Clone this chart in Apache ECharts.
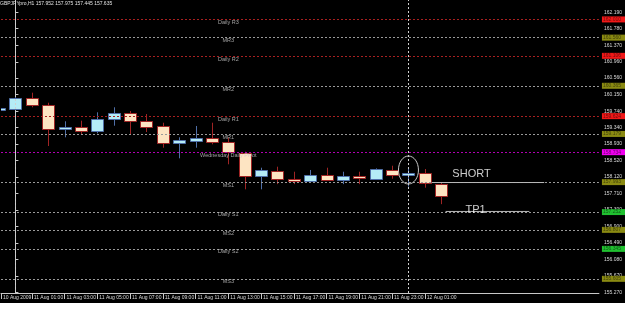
<!DOCTYPE html>
<html><head><meta charset="utf-8">
<script src="https://cdn.jsdelivr.net/npm/echarts@6/dist/echarts.min.js"></script>
<style>html,body{margin:0;padding:0;background:#fff;} #chart{width:625px;height:303px;background:#000;}</style>
</head><body><div id="chart"></div>
<script>
// ---- data ----
// bar index: 0 = 11 Aug 00:00, -1 = 10 Aug 23:00 (hourly)
const barIndex = [-1,0,1,2,3,4,5,6,7,8,9,10,11,12,13,14,15,16,17,18,19,20,21,22,23,24,25,26];
const opens  = [159.78,159.804,160.061,159.903,159.295,159.344,159.253,159.550,159.705,159.500,159.377,158.964,159.013,159.073,158.974,158.717,158.149,158.272,158.067,158.018,158.174,158.035,158.141,158.074,158.290,158.166,158.208,157.952];
const highs  = [159.86,160.120,160.200,159.952,159.493,159.508,159.715,159.839,159.747,159.673,159.458,159.097,159.377,159.458,159.088,158.742,158.346,158.371,158.247,158.290,158.346,158.247,158.247,158.330,158.395,158.330,158.314,157.975];
const lows   = [159.74,159.770,159.839,158.882,159.097,159.179,159.196,159.384,159.154,159.228,158.840,158.578,158.840,158.924,158.430,157.812,157.812,157.940,157.940,157.990,158.018,157.940,157.940,158.050,158.074,157.880,157.852,157.445];
const closes = [159.82,160.061,159.896,159.295,159.344,159.253,159.542,159.705,159.500,159.359,158.949,159.023,159.080,158.974,158.727,158.141,158.282,158.067,158.025,158.166,158.035,158.141,158.084,158.307,158.158,158.208,157.961,157.635];

const yTicks = [155.27,155.67,156.08,156.49,156.90,157.30,157.71,158.12,158.52,158.93,159.34,159.74,160.15,160.56,160.96,161.37,161.78,162.19];
const xTickIndex  = [-0.88,1,3,5,7,9,11,13,15,17,19,21,23,25];
const xTickLabels = ['10 Aug 2009','11 Aug 01:00','11 Aug 03:00','11 Aug 05:00','11 Aug 07:00','11 Aug 09:00','11 Aug 11:00','11 Aug 13:00','11 Aug 15:00','11 Aug 17:00','11 Aug 19:00','11 Aug 21:00','11 Aug 23:00','12 Aug 01:00'];

const levelNames  = ['Daily R3','MR3','Daily R2','MR2','Daily R1','MR1','Wednesday Daily Pivot','MS1','Daily S1','MS2','Daily S2','MS3'];
const levelValues = [162.01,161.56,161.106,160.365,159.624,159.179,158.734,157.993,157.252,156.807,156.345,155.605];
const levelKinds  = ['R','M','R','M','R','M','P','M','S','M','S','M'];
const levelTextAt = 13;   // 11 Aug 13:00

const separators = [0, 24];   // 11 Aug 00:00, 12 Aug 00:00
const shortLine = [[25.42,157.98],[32.29,157.98]];
const tp1Line   = [[26.27,157.265],[31.38,157.265]];
const notes = [{text:'SHORT', x:27.85, y:158.19},{text:'TP1', x:28.1, y:157.30}];
const circled = {x:24, price:158.289};
const lastPrice = closes[closes.length-1];

// ---- styles ----
const lineColor = {R:'#a82020', M:'#9a9a9a', P:'#b000b0', S:'#9a9a9a'};
const boxColor  = {R:'#f01818', M:'#8a8a12', P:'#f000f0', S:'#20c030'};
const FONT = 'Liberation Sans';
const BODY_W = 12;

const candleData = barIndex.map((x,i)=>[x, opens[i], closes[i], lows[i], highs[i]]);

const markData = [];
levelValues.forEach((v,i)=>{
  const k = levelKinds[i];
  markData.push({yAxis:v, lineStyle:{color:lineColor[k], type:[2,2], width:1},
    label:{show:true, position:'end', distance:3, formatter:v.toFixed(3), backgroundColor:boxColor[k],
      color:'rgba(0,0,0,0.55)', fontSize:5, fontFamily:FONT, padding:[1,4,0,1]}});
});
markData.push({yAxis:lastPrice, lineStyle:{opacity:0},
  label:{show:true, position:'end', distance:3, formatter:lastPrice.toFixed(3), backgroundColor:'#ffffff',
    color:'#000', fontSize:5, fontFamily:FONT, padding:[1,4,0,1]}});
separators.forEach(x=>markData.push({xAxis:x, lineStyle:{color:'#d0d0d0', type:[2,2], width:1}, label:{show:false}}));

function renderCandle(params, api){
  const x = api.value(0), o = api.value(1), c = api.value(2), l = api.value(3), h = api.value(4);
  const pO = api.coord([x,o]), pC = api.coord([x,c]), pL = api.coord([x,l]), pH = api.coord([x,h]);
  const cx = Math.round(pO[0]) + 0.5;
  const bull = c >= o;
  const top = Math.round(Math.min(pO[1],pC[1])) + 0.5, bot = Math.round(Math.max(pO[1],pC[1])) + 0.5;
  return {type:'group', children:[
    {type:'line', shape:{x1:cx, y1:pH[1], x2:cx, y2:pL[1]}, style:{stroke: bull ? '#4f6fa8' : '#a02424', lineWidth:1}},
    {type:'rect', shape:{x:cx-BODY_W/2, y:top, width:BODY_W, height:Math.max(bot-top,1)},
     style:{fill: bull ? '#b4ecf6' : '#fde4c2', stroke: bull ? '#4f6fa8' : '#a02424', lineWidth:1}}
  ]};
}

const chart = echarts.init(document.getElementById('chart'), null, {renderer:'canvas'});
chart.setOption({
  backgroundColor:'#000',
  animation:false,
  title:{text:'GBPJPYpro,H1 '+[opens.at(-1),highs.at(-1),lows.at(-1),closes.at(-1)].map(v=>v.toFixed(3)).join(' '),
    left:0, top:1, padding:0, textStyle:{fontSize:5, color:'#e0e0e0', fontWeight:'normal', fontFamily:FONT}},
  grid:{left:0, right:24, top:0, bottom:10},
  xAxis:{type:'value', min:-0.88, max:35.63,
    axisLine:{lineStyle:{color:'#c8c8c8'}},
    axisTick:{show:true, length:6, customValues:xTickIndex, lineStyle:{color:'#c8c8c8'}},
    axisLabel:{customValues:xTickIndex, formatter:v=>xTickLabels[xTickIndex.indexOf(v)],
      align:'left', margin:2, padding:[0,0,0,2], fontSize:5, color:'#d8d8d8', fontFamily:FONT,
      showMinLabel:true, showMaxLabel:true, hideOverlap:false},
    splitLine:{show:false}},
  yAxis:{type:'value', position:'right', min:155.25, max:162.49,
    axisLine:{show:true, lineStyle:{color:'#c8c8c8'}},
    axisTick:{show:true, length:3, customValues:yTicks, lineStyle:{color:'#c8c8c8'}},
    axisLabel:{customValues:yTicks, formatter:v=>v.toFixed(3), fontSize:5, color:'#d8d8d8', margin:5, fontFamily:FONT,
      showMinLabel:true, showMaxLabel:true},
    splitLine:{show:false}},
  series:[
    {type:'custom', data:candleData, renderItem:renderCandle, clip:true,
     encode:{x:0, y:[1,2,3,4]},
     markLine:{symbol:['none','none'], silent:true, data:markData}},
    {type:'scatter', symbolSize:0, data:levelValues.map((v,i)=>({value:[levelTextAt,v], name:levelNames[i]})),
     label:{show:true, position:'bottom', distance:0, formatter:p=>p.name, fontSize:5.5, color:'#c8c8c8', fontFamily:FONT}, z:5},
    {type:'line', data:shortLine, symbol:'none', lineStyle:{color:'#b8b8b8', width:1}, z:6},
    {type:'line', data:tp1Line, symbol:'none', lineStyle:{color:'#b8b8b8', width:1}, z:6},
    {type:'scatter', symbolSize:0, data:notes.map(n=>({value:[n.x,n.y], name:n.text})),
     label:{show:true, position:'inside', formatter:p=>p.name, fontSize:11, color:'#ffffff', fontFamily:FONT}, z:7}
  ]
});
const c = chart.convertToPixel({xAxisIndex:0, yAxisIndex:0}, [circled.x, circled.price]);
chart.setOption({graphic:[{type:'ellipse', shape:{cx:c[0], cy:c[1], rx:10, ry:14},
  style:{fill:'none', stroke:'#c8c8c8', lineWidth:1}, z:100}]});
</script></body></html>
